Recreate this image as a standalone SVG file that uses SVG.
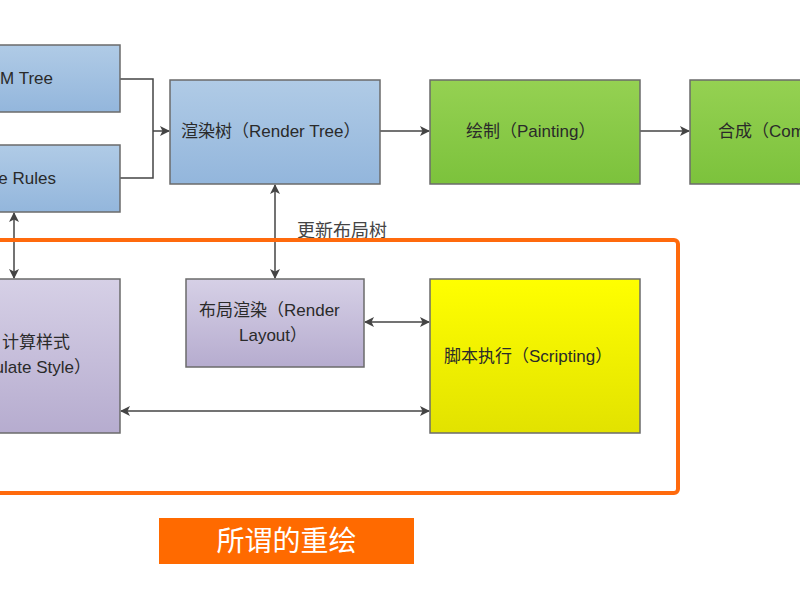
<svg xmlns="http://www.w3.org/2000/svg" width="800" height="600" viewBox="0 0 800 600">
<defs>
<linearGradient id="gBlue" x1="0" y1="0" x2="0" y2="1"><stop offset="0" stop-color="#b0cbe6"/><stop offset="1" stop-color="#93b6dc"/></linearGradient>
<linearGradient id="gGreen" x1="0" y1="0" x2="0" y2="1"><stop offset="0" stop-color="#95d152"/><stop offset="1" stop-color="#7cc23c"/></linearGradient>
<linearGradient id="gPurple" x1="0" y1="0" x2="0" y2="1"><stop offset="0" stop-color="#d6d0e6"/><stop offset="1" stop-color="#b6accf"/></linearGradient>
<linearGradient id="gYellow" x1="0" y1="0" x2="0" y2="1"><stop offset="0" stop-color="#ffff00"/><stop offset="1" stop-color="#e2e200"/></linearGradient>
<marker id="ah" viewBox="0 0 10 10" refX="9" refY="5" markerWidth="10" markerHeight="10" markerUnits="userSpaceOnUse" orient="auto-start-reverse"><path d="M0,0 L10,5 L0,10 L2.5,5 Z" fill="#444"/></marker>
</defs>
<style>
.box{stroke:#6b6b6b;stroke-width:1.5}
.t{font-family:"Liberation Sans","Noto Sans CJK SC",sans-serif;font-size:17px;fill:#2a2a2a}
.c{fill:none;stroke:#444;stroke-width:1.5}
</style>
<rect width="800" height="600" fill="#fff"/>
<g id="connectors">
<path class="c" d="M120,79 H153 V178 H120"/>
<path class="c" d="M153,131 H169" marker-end="url(#ah)"/>
<path class="c" d="M380,131 H429" marker-end="url(#ah)"/>
<path class="c" d="M640,131 H689" marker-end="url(#ah)"/>
<path class="c" d="M14,213 V278" marker-start="url(#ah)" marker-end="url(#ah)"/>
<path class="c" d="M275,185 V278" marker-start="url(#ah)" marker-end="url(#ah)"/>
<path class="c" d="M365,322 H429" marker-start="url(#ah)" marker-end="url(#ah)"/>
<path class="c" d="M121,411 H429" marker-start="url(#ah)" marker-end="url(#ah)"/>
<text class="t" x="297" y="237" style="font-size:18px;fill:#444">更新布局树</text>
</g>
<rect x="-10" y="240" width="688" height="253" rx="4" fill="none" stroke="#ff6a0d" stroke-width="4"/>
<g id="dom">
<rect class="box" x="-10" y="45" width="130" height="67" fill="url(#gBlue)"/>
<text class="t" x="53" y="84" text-anchor="end">M Tree</text>
</g>
<g id="style-rules">
<rect class="box" x="-10" y="145" width="130" height="67" fill="url(#gBlue)"/>
<text class="t" x="56" y="184" text-anchor="end">e Rules</text>
</g>
<g id="render-tree">
<rect class="box" x="170" y="80" width="210" height="104" fill="url(#gBlue)"/>
<text class="t" x="181" y="137">渲染树（Render Tree）</text>
</g>
<g id="painting">
<rect class="box" x="430" y="80" width="210" height="104" fill="url(#gGreen)"/>
<text class="t" x="466" y="137">绘制（Painting）</text>
</g>
<g id="composite">
<rect class="box" x="690" y="80" width="120" height="104" fill="url(#gGreen)"/>
<text class="t" x="718" y="137">合成（Com</text>
</g>
<g id="calc-style">
<rect class="box" x="-10" y="279" width="130" height="154" fill="url(#gPurple)"/>
<text class="t" x="70" y="348" text-anchor="end">计算样式</text>
<text class="t" x="91" y="373" text-anchor="end">ulate Style）</text>
</g>
<g id="render-layout">
<rect class="box" x="186" y="279" width="178" height="88" fill="url(#gPurple)"/>
<text class="t" x="199" y="316">布局渲染（Render</text>
<text class="t" x="239" y="341">Layout）</text>
</g>
<g id="scripting">
<rect class="box" x="430" y="279" width="210" height="154" fill="url(#gYellow)"/>
<text class="t" x="444" y="362">脚本执行（Scripting）</text>
</g>
<g id="repaint-label">
<rect x="159" y="518" width="255" height="46" fill="#ff6a00"/>
<text x="286.5" y="551" text-anchor="middle" style="font-family:'Noto Sans CJK SC',sans-serif;font-size:28px;fill:#fff">所谓的重绘</text>
</g>
</svg>
